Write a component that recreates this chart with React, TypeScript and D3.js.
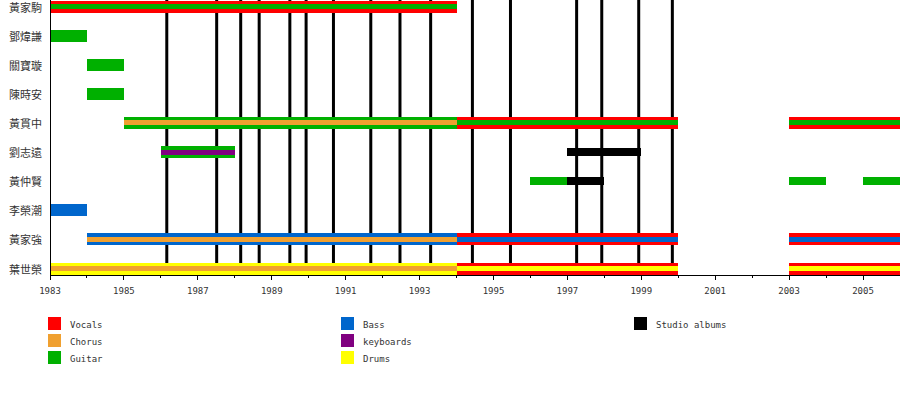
import React from 'react';
import * as d3 from 'd3';

const members = ['黃家駒', '鄧煒謙', '關寶璇', '陳時安', '黃貫中', '劉志遠', '黃仲賢', '李榮潮', '黃家強', '葉世榮'];

const roles = ['Vocals', 'Chorus', 'Guitar', 'Bass', 'keyboards', 'Drums', 'Studio albums'];
const roleColors = ['#ff0000', '#f0a030', '#00b000', '#0066cc', '#800080', '#ffff00', '#000000'];

// [member, from, till, outer role, inner role | null, thin?]
const periods: [string, number, number, string, string | null, boolean][] = [
  ['黃家駒', 1983, 1994, 'Vocals', 'Guitar', false],
  ['鄧煒謙', 1983, 1984, 'Guitar', null, false],
  ['關寶璇', 1984, 1985, 'Guitar', null, false],
  ['陳時安', 1984, 1985, 'Guitar', null, false],
  ['黃貫中', 1985, 1994, 'Guitar', 'Chorus', false],
  ['黃貫中', 1994, 2000, 'Vocals', 'Guitar', false],
  ['黃貫中', 2003, 2006, 'Vocals', 'Guitar', false],
  ['劉志遠', 1986, 1988, 'Guitar', 'keyboards', false],
  ['劉志遠', 1997, 1999, 'Studio albums', null, true],
  ['黃仲賢', 1996, 1997, 'Guitar', null, true],
  ['黃仲賢', 1997, 1998, 'Studio albums', null, true],
  ['黃仲賢', 2003, 2004, 'Guitar', null, true],
  ['黃仲賢', 2005, 2006, 'Guitar', null, true],
  ['李榮潮', 1983, 1984, 'Bass', null, false],
  ['黃家強', 1984, 1994, 'Bass', 'Chorus', false],
  ['黃家強', 1994, 2000, 'Vocals', 'Bass', false],
  ['黃家強', 2003, 2006, 'Vocals', 'Bass', false],
  ['葉世榮', 1983, 1994, 'Drums', 'Chorus', false],
  ['葉世榮', 1994, 2000, 'Vocals', 'Drums', false],
  ['葉世榮', 2003, 2006, 'Vocals', 'Drums', false],
];

const albumDates = [1986.16, 1987.51, 1988.16, 1988.66, 1989.49, 1989.93, 1990.67, 1991.68, 1992.47, 1993.3, 1994.43, 1995.46, 1997.25, 1997.93, 1998.93, 1999.84];

const yearTicks = d3.range(1983, 2007, 1);
const labelYears = d3.range(1983, 2006, 2);

const legendColumns = [
  ['Vocals', 'Chorus', 'Guitar'],
  ['Bass', 'keyboards', 'Drums'],
  ['Studio albums'],
];

export default function App() {
  const width = 900;
  const height = 400;
  const left = 50;
  const axisY = 275;

  const x = d3.scaleLinear().domain([1983, 2006]).range([left, width]);
  const y = d3.scalePoint<string>().domain(members).range([6.5, 268.5]);
  const color = d3.scaleOrdinal<string, string>().domain(roles).range(roleColors);

  const mono = '"DejaVu Sans Mono", monospace';

  return (
    <svg width={width} height={height} style={{ position: 'absolute', left: 0, top: 0, background: '#fff' }}>
      <rect x={0} y={0} width={width} height={height} fill="#fff" />
      {/* album lines */}
      <g>
        {albumDates.map((d, i) => (
          <line key={i} x1={x(d)} x2={x(d)} y1={0} y2={axisY} stroke="#000" strokeWidth={3} />
        ))}
      </g>
      {/* bars */}
      <g shapeRendering="crispEdges">
        {periods.map(([m, from, till, outer, inner, thin], i) => {
          const cy = y(m)!;
          const h = thin ? 8 : 12;
          return (
            <g key={i}>
              <rect x={x(from)} y={cy - h / 2} width={x(till) - x(from)} height={h} fill={color(outer)} />
              {inner && (
                <rect x={x(from)} y={cy - 2.5} width={x(till) - x(from)} height={5} fill={color(inner)} />
              )}
            </g>
          );
        })}
      </g>
      {/* axes */}
      <g shapeRendering="crispEdges">
        <line x1={left + 0.5} x2={left + 0.5} y1={0} y2={axisY} stroke="#000" strokeWidth={1} />
        <line x1={left} x2={width} y1={axisY + 0.5} y2={axisY + 0.5} stroke="#000" strokeWidth={1} />
        {yearTicks.map((t) => (
          <line key={t} x1={x(t)} x2={x(t)} y1={axisY} y2={axisY + ((t - 1983) % 2 === 0 ? 5 : 3)} stroke="#000" strokeWidth={1} />
        ))}
      </g>
      <g fontFamily={mono} fontSize={9} fill="#333" textAnchor="middle">
        {labelYears.map((t) => (
          <text key={t} x={x(t)} y={294}>{t}</text>
        ))}
      </g>
      {/* member labels */}
      <g fontFamily='"Noto Sans CJK TC", sans-serif' fontSize={11} fill="#333" textAnchor="end">
        {members.map((m) => (
          <text key={m} x={42} y={y(m)!} dominantBaseline="central">{m}</text>
        ))}
      </g>
      {/* legend */}
      <g fontFamily={mono} fontSize={9} fill="#333">
        {legendColumns.map((col, ci) => (
          <g key={ci} transform={`translate(${[48, 341, 634][ci]},317)`}>
            {col.map((r, ri) => (
              <g key={r} transform={`translate(0,${ri * 17})`}>
                <rect x={0} y={0} width={13} height={13} fill={color(r)} shapeRendering="crispEdges" />
                <text x={22} y={10.5}>{r}</text>
              </g>
            ))}
          </g>
        ))}
      </g>
    </svg>
  );
}
